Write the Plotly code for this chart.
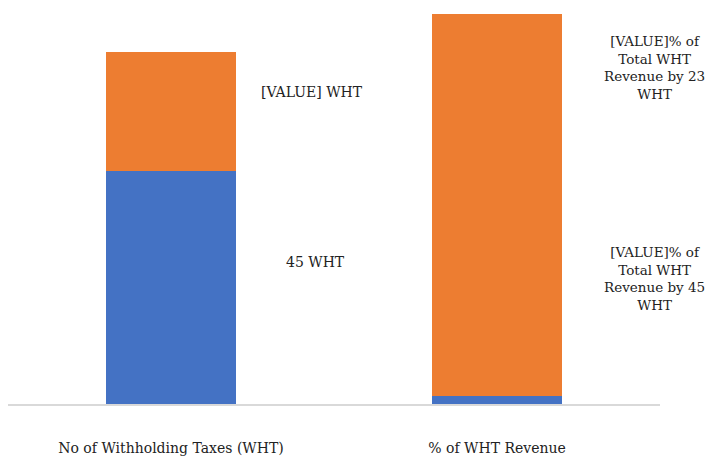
import plotly.graph_objects as go

categories = ["No of Withholding Taxes (WHT)", "% of WHT Revenue"]
series_names = ["45 WHT group", "23 WHT group"]
blue_values = [45, 1.6]
orange_values = [23, 73.7]

label_texts = [
    "[VALUE] WHT",
    "45 WHT",
    "[VALUE]% of<br>Total WHT<br>Revenue by 23<br>WHT",
    "[VALUE]% of<br>Total WHT<br>Revenue by 45<br>WHT",
]

BLUE = "#4472C4"
ORANGE = "#ED7D31"
FONT = "DejaVu Serif"

fig = go.Figure()
fig.add_trace(go.Bar(x=categories, y=blue_values, name=series_names[0],
                     marker=dict(color=BLUE, line=dict(width=0))))
fig.add_trace(go.Bar(x=categories, y=orange_values, name=series_names[1],
                     marker=dict(color=ORANGE, line=dict(width=0))))

# label positions (paper x, data y)
label_pos = [(0.466, 60.2), (0.472, 27.4), (0.992, 65.0), (0.992, 24.3)]
sizes = [14, 14, 13.5, 13.5]
for (lx, ly), txt, sz in zip(label_pos, label_texts, sizes):
    fig.add_annotation(x=lx, y=ly, xref="paper", yref="y", text=txt, showarrow=False,
                       font=dict(family=FONT, size=sz, color="#222222"),
                       align="center", xanchor="center")

fig.update_layout(
    barmode="stack",
    bargap=0.6,
    width=707, height=451,
    margin=dict(l=0, r=55, t=6, b=55, autoexpand=False),
    paper_bgcolor="white", plot_bgcolor="white",
    showlegend=False,
    font=dict(family=FONT, size=14, color="#222222"),
)
fig.update_xaxes(showline=True, linecolor="#D9D9D9", linewidth=2,
                 showgrid=False, ticks="", ticklabelstandoff=30, automargin=False,
                 tickfont=dict(family=FONT, size=14, color="#222222"),
                 range=[-0.5, 1.5])
fig.update_yaxes(range=[0, 75.3], showgrid=False, showticklabels=False, automargin=False,
                 zeroline=False, showline=False)

fig.write_html("out.html")
